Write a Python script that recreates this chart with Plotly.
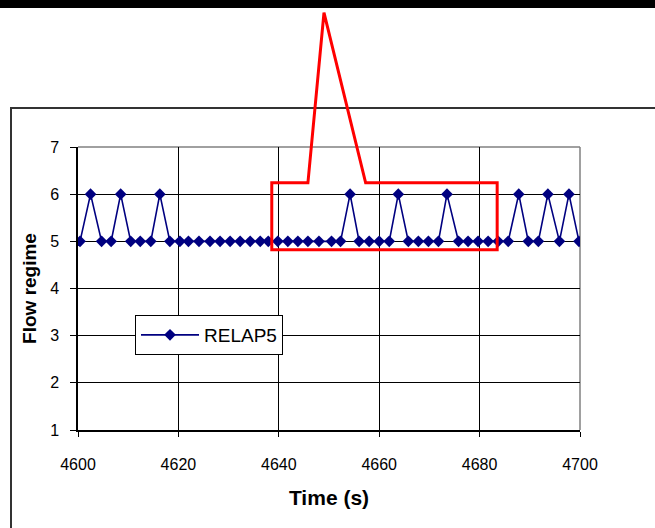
import plotly.graph_objects as go

# ---- data ----
time_s = [4600.4, 4602.5, 4604.7, 4606.6, 4608.5, 4610.5, 4612.4, 4614.5, 4616.3, 4618.3,
          4620.3, 4622.0, 4624.1, 4626.3, 4628.3, 4630.3, 4632.3, 4634.3, 4636.3, 4637.9,
          4639.8, 4641.8, 4643.8, 4645.8, 4648.0, 4650.5, 4652.3, 4654.2, 4656.0, 4658.0,
          4660.0, 4662.0, 4663.8, 4665.8, 4667.8, 4669.8, 4671.8, 4673.5, 4675.8, 4677.7,
          4679.7, 4681.7, 4683.7, 4685.7, 4687.8, 4689.7, 4691.7, 4693.6, 4695.9, 4697.8,
          4699.8]
flow_regime = [5, 6, 5, 5, 6, 5, 5, 5, 6, 5,
               5, 5, 5, 5, 5, 5, 5, 5, 5, 5,
               5, 5, 5, 5, 5, 5, 5, 6, 5, 5,
               5, 5, 6, 5, 5, 5, 5, 6, 5, 5,
               5, 5, 5, 5, 6, 5, 5, 6, 5, 6,
               5]
series_name = "RELAP5"
x_ticks = [4600, 4620, 4640, 4660, 4680, 4700]
y_ticks = [1, 2, 3, 4, 5, 6, 7]

# highlight window (data units) and callout apex
hl_t = (4638.6, 4683.5)
hl_y = (4.82, 6.24)
callout_t = (4645.8, 4649.0, 4657.3)
callout_apex_y = 9.85

X_RANGE = (4600, 4700)
Y_RANGE = (1, 7)

def px(t):
    return (t - X_RANGE[0]) / (X_RANGE[1] - X_RANGE[0])

def py(v):
    return (v - Y_RANGE[0]) / (Y_RANGE[1] - Y_RANGE[0])

FONT = "Liberation Sans, Arial, sans-serif"

fig = go.Figure()
fig.add_trace(go.Scatter(
    x=time_s, y=flow_regime, mode="lines+markers", name=series_name,
    line=dict(color="#000080", width=1.6),
    marker=dict(symbol="diamond", size=9, color="#000080"),
))

shapes = []
# top and right plot-area border (gray)
shapes.append(dict(type="line", xref="paper", yref="paper", x0=0, x1=1, y0=1, y1=1,
                   line=dict(color="#808080", width=1.5), layer="between"))
shapes.append(dict(type="line", xref="paper", yref="paper", x0=1, x1=1, y0=0, y1=1,
                   line=dict(color="#808080", width=1.5), layer="between"))
# outer chart frame
shapes.append(dict(type="path", xref="paper", yref="paper",
                   path=f"M {-67/502} {-110/283} L {-67/502} {322/283} L {600/502} {322/283}",
                   line=dict(color="#333333", width=2)))
# black band at top
shapes.append(dict(type="rect", xref="paper", yref="paper",
                   x0=-0.3, x1=1.3, y0=422/283, y1=440/283,
                   fillcolor="black", line=dict(width=0)))
# red callout
x0, x1 = px(hl_t[0]), px(hl_t[1])
y0, y1 = py(hl_y[0]), py(hl_y[1])
ca, cb, cc = (px(t) for t in callout_t)
ya = py(callout_apex_y)
red_path = (f"M {x0} {y0} L {x0} {y1} L {ca} {y1} L {cb} {ya} L {cc} {y1} "
            f"L {x1} {y1} L {x1} {y0} Z")
shapes.append(dict(type="path", xref="paper", yref="paper", path=red_path,
                   line=dict(color="#ff0000", width=3), layer="above"))

fig.update_layout(
    width=655, height=528,
    margin=dict(l=78, r=75, t=147, b=98, autoexpand=False),
    paper_bgcolor="white", plot_bgcolor="white",
    font=dict(family=FONT, color="black", size=15),
    showlegend=True,
    legend=dict(x=57/502, y=115/283, xanchor="left", yanchor="top",
                bgcolor="white", bordercolor="black", borderwidth=1,
                font=dict(size=19, family=FONT, color="black"),
                itemwidth=58, tracegroupgap=0),
    shapes=shapes,
)
fig.update_xaxes(
    range=list(X_RANGE), tickvals=x_ticks, ticktext=[str(v) for v in x_ticks],
    showgrid=True, gridcolor="black", gridwidth=1,
    showline=True, linecolor="black", linewidth=1.5,
    ticks="outside", ticklen=5, tickcolor="black",
    ticklabelstandoff=14, tickfont=dict(size=16),
    zeroline=False, automargin=False,
    title=dict(text="<b>Time (s)</b>", font=dict(size=21), standoff=18),
)
fig.update_yaxes(
    range=list(Y_RANGE), tickvals=y_ticks, ticktext=[str(v) for v in y_ticks],
    showgrid=True, gridcolor="black", gridwidth=1,
    showline=True, linecolor="black", linewidth=1.5,
    ticks="outside", ticklen=6, tickcolor="black",
    ticklabelstandoff=8, tickfont=dict(size=16),
    zeroline=False, automargin=False,
    title=dict(text="<b>Flow regime</b>", font=dict(size=19), standoff=8),
)

fig.write_html("out.html",
               config={"displayModeBar": False},
               post_script="document.body.style.margin='0';document.body.style.overflow='hidden';")
